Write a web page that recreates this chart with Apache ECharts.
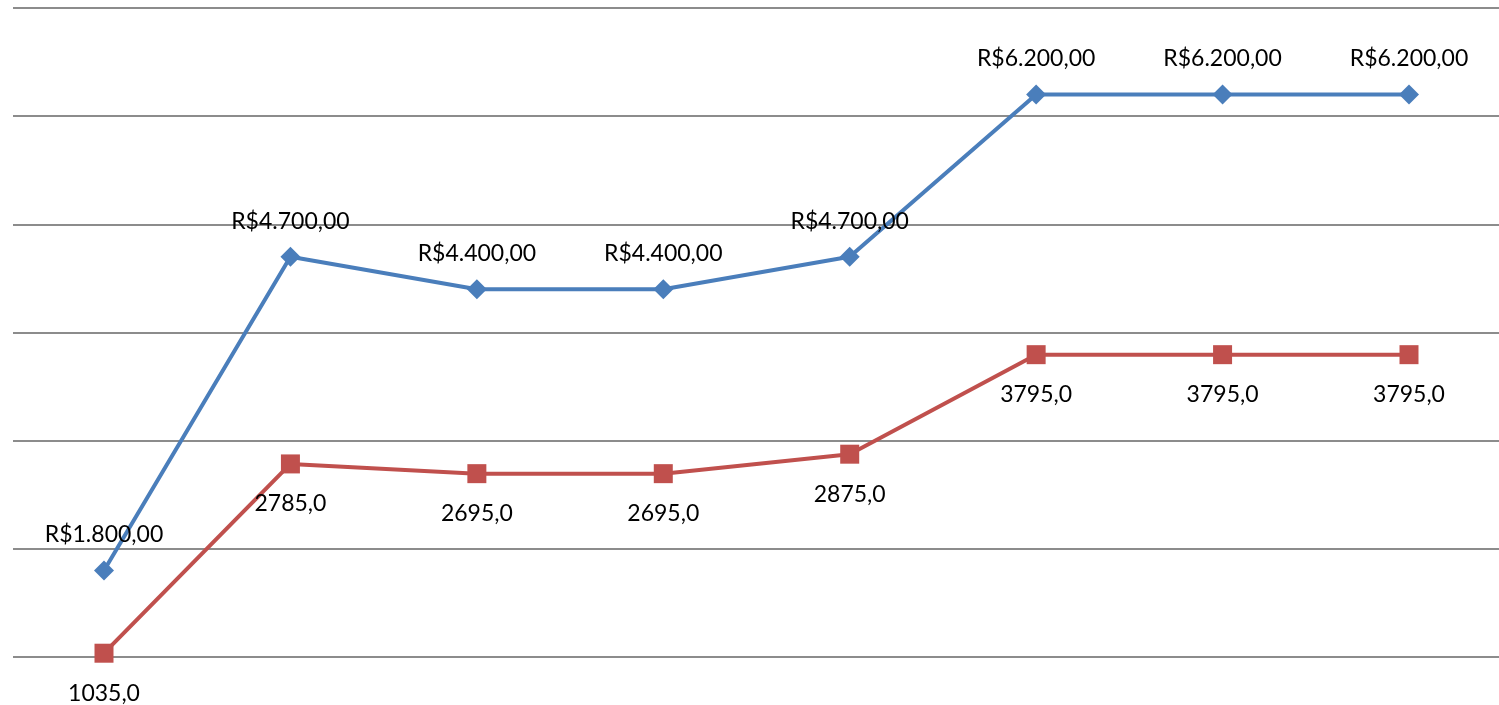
<!DOCTYPE html>
<html>
<head>
<meta charset="utf-8">
<script src="https://cdn.jsdelivr.net/npm/echarts@6/dist/echarts.min.js"></script>
<style>
  html, body { margin: 0; padding: 0; background: #ffffff; }
  #chart { width: 1499px; height: 705px; }
</style>
</head>
<body>
<div id="chart"></div>
<script>
// Periods along the horizontal axis (labels are not shown)
const categories = ['1', '2', '3', '4', '5', '6', '7', '8'];
// Upper series: amounts in R$
const serieValor = [1800, 4700, 4400, 4400, 4700, 6200, 6200, 6200];
// Lower series
const serieBase = [1035, 2785, 2695, 2695, 2875, 3795, 3795, 3795];
// Value axis range
const yMin = 1000, yMax = 7000, yStep = 1000;

const FONT = 'Lato, "Open Sans", sans-serif';

// pt-BR currency style: R$4.700,00
function brl(v) {
  const [i, d] = v.toFixed(2).split('.');
  return 'R$' + i.replace(/\B(?=(\d{3})+(?!\d))/g, '.') + ',' + d;
}
// one decimal with comma: 2785,0
function dec1(v) {
  return v.toFixed(1).replace('.', ',');
}

const hiddenAxis = {
  axisLine: { show: false },
  axisTick: { show: false },
  axisLabel: { show: false },
  splitLine: { show: false }
};

const chart = echarts.init(document.getElementById('chart'));
chart.setOption({
  animation: false,
  backgroundColor: '#ffffff',
  grid: [
    // full-width plot area carrying the horizontal gridlines
    { left: 13, right: 0, top: 8, height: 649 },
    // data area: points sit on category centres
    { left: 104, right: 90, top: 8, height: 649 }
  ],
  xAxis: [
    Object.assign({ type: 'category', data: categories, gridIndex: 0 }, hiddenAxis),
    Object.assign({ type: 'category', data: categories, gridIndex: 1, boundaryGap: false }, hiddenAxis)
  ],
  yAxis: [
    Object.assign({ type: 'value', gridIndex: 0, min: yMin, max: yMax, interval: yStep }, hiddenAxis,
      { splitLine: { show: true, lineStyle: { color: '#8c8c8c', width: 2 } } }),
    Object.assign({ type: 'value', gridIndex: 1, min: yMin, max: yMax, interval: yStep }, hiddenAxis)
  ],
  series: [
    {
      name: 'Série 1',
      type: 'line',
      xAxisIndex: 1,
      yAxisIndex: 1,
      data: serieValor,
      symbol: 'diamond',
      symbolSize: 20,
      lineStyle: { color: '#4a7ebb', width: 4 },
      itemStyle: { color: '#4a7ebb' },
      label: {
        show: true,
        position: 'top',
        distance: 14,
        color: '#000000',
        fontFamily: FONT,
        fontSize: 23,
        formatter: p => brl(p.value)
      },
      z: 2
    },
    {
      name: 'Série 2',
      type: 'line',
      xAxisIndex: 1,
      yAxisIndex: 1,
      data: serieBase,
      symbol: 'rect',
      symbolSize: 19,
      lineStyle: { color: '#c0504d', width: 4 },
      itemStyle: { color: '#c0504d' },
      label: {
        show: true,
        position: 'bottom',
        distance: 19,
        color: '#000000',
        fontFamily: FONT,
        fontSize: 23,
        formatter: p => dec1(p.value)
      },
      z: 3
    }
  ]
});
</script>
</body>
</html>
